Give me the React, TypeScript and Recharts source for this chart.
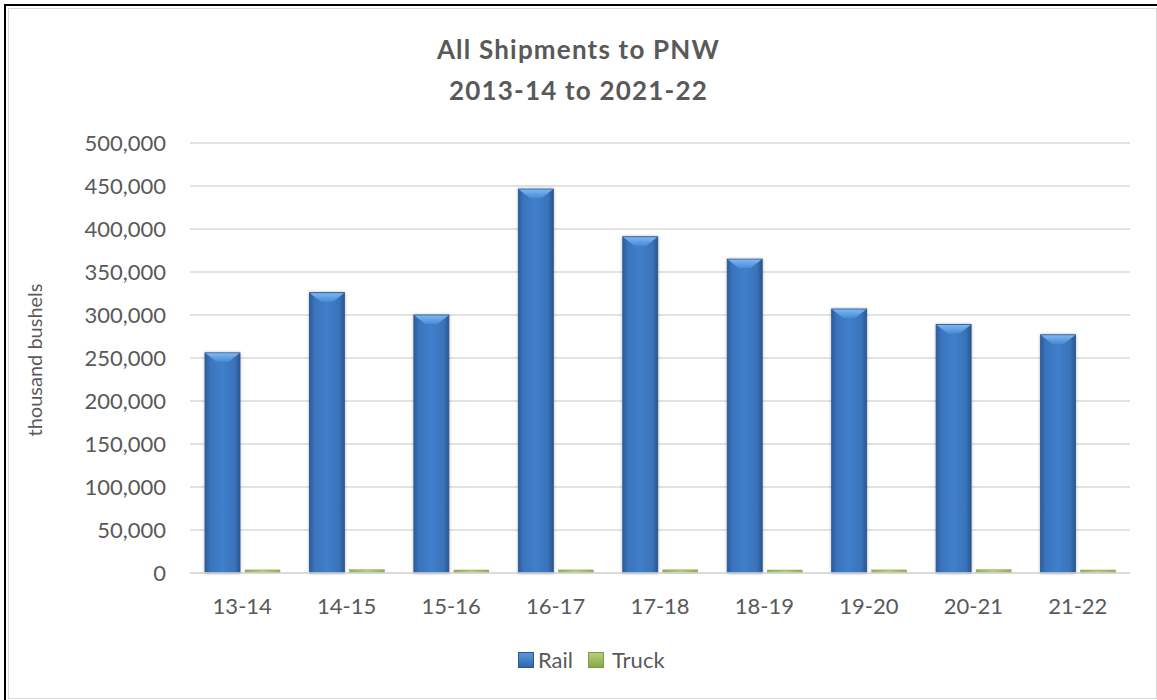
import React from 'react';
import { BarChart, Bar, XAxis, YAxis, CartesianGrid } from 'recharts';

const categories = ['13-14', '14-15', '15-16', '16-17', '17-18', '18-19', '19-20', '20-21', '21-22'];
const railValues = [256000, 326000, 300000, 446500, 391000, 365000, 307000, 289000, 277000];
const truckValues = [3600, 3800, 3500, 3600, 3700, 3500, 3600, 3900, 3500];
const yTicks = [0, 50000, 100000, 150000, 200000, 250000, 300000, 350000, 400000, 450000, 500000];
const titleLines = ['All Shipments to PNW', '2013-14 to 2021-22'];
const yAxisTitle = 'thousand bushels';
const seriesNames = ['Rail', 'Truck'];

const data = categories.map((c, i) => ({ category: c, rail: railValues[i], truck: truckValues[i] }));

const FONT = 'Lato, "Open Sans", sans-serif';
const TEXT = '#595959';

const fmt = (v: number) => v.toLocaleString('en-US');

const RailShape = (props: any) => {
  const { x, y, width, height } = props;
  if (!height || height <= 0) return null;
  const bev = Math.min(9, height);
  const inset = width * 0.33;
  return (
    <g filter="url(#barShadow)">
      <rect x={x} y={y} width={width} height={height} fill="url(#railGrad)" stroke="#2b558c" strokeWidth={0.8} />
      <path
        d={`M${x + 0.5},${y + 0.5} L${x + width - 0.5},${y + 0.5} L${x + width - inset},${y + bev} L${x + inset},${y + bev} Z`}
        fill="url(#railCap)"
      />
    </g>
  );
};

const TruckShape = (props: any) => {
  const { x, y, width, height } = props;
  if (!height || height <= 0) return null;
  return (
    <g>
      <rect x={x} y={y} width={width} height={height} fill="url(#truckGrad)" stroke="#8ea85a" strokeWidth={0.5} />
    </g>
  );
};

export default function App() {
  return (
    <div style={{ position: 'absolute', left: 0, top: 0, width: 1157, height: 700, background: '#fff', overflow: 'hidden', fontFamily: FONT }}>
      <div style={{ position: 'absolute', left: 4, top: 4, width: 1157, height: 700, borderTop: '2px solid #000', borderLeft: '2px solid #000' }} />
      <div style={{ position: 'absolute', left: 8, top: 8, width: 1147, height: 689, border: '1px solid #d9d9d9' }} />
      <div
        style={{
          position: 'absolute', left: 0, top: 29, width: 1157, textAlign: 'center',
          fontSize: 26, lineHeight: '41px', fontWeight: 700, color: TEXT, letterSpacing: 1.2,
        }}
      >
        {titleLines.map((t) => (
          <div key={t}>{t}</div>
        ))}
      </div>
      <div
        style={{
          position: 'absolute', left: 34, top: 360, width: 0, height: 0,
        }}
      >
        <div
          style={{
            position: 'absolute', left: -150, top: -12, width: 300, height: 24, lineHeight: '24px',
            textAlign: 'center', transform: 'rotate(-90deg)', fontSize: 20, color: TEXT, whiteSpace: 'nowrap',
          }}
        >
          {yAxisTitle}
        </div>
      </div>
      <div style={{ position: 'absolute', left: 0, top: 0 }}>
        <BarChart
          width={1157}
          height={700}
          data={data}
          margin={{ top: 143, right: 27, bottom: 87, left: 0 }}
          barSize={35}
          barGap={5}
        >
          <defs>
            <linearGradient id="railGrad" x1="0" y1="0" x2="1" y2="0">
              <stop offset="0%" stopColor="#2d5d9c" />
              <stop offset="15%" stopColor="#3a74bd" />
              <stop offset="50%" stopColor="#407fcb" />
              <stop offset="85%" stopColor="#3a72b9" />
              <stop offset="100%" stopColor="#2a5690" />
            </linearGradient>
            <linearGradient id="railCap" x1="0" y1="0" x2="0" y2="1">
              <stop offset="0%" stopColor="#7ab8f2" />
              <stop offset="100%" stopColor="#4a8ad6" />
            </linearGradient>
            <linearGradient id="truckGrad" x1="0" y1="0" x2="1" y2="0">
              <stop offset="0%" stopColor="#93ad5c" />
              <stop offset="50%" stopColor="#b3cc80" />
              <stop offset="100%" stopColor="#93ad5c" />
            </linearGradient>
            <filter id="barShadow" x="-20%" y="-5%" width="140%" height="110%">
              <feDropShadow dx="0" dy="0" stdDeviation="1.5" floodColor="#000" floodOpacity="0.3" />
            </filter>
          </defs>
          <CartesianGrid vertical={false} stroke="#d9d9d9" strokeWidth={1.5} />
          <XAxis
            dataKey="category"
            axisLine={{ stroke: '#d9d9d9', strokeWidth: 1.5 }}
            tickLine={false}
            tickSize={0}
            tickMargin={25}
            height={40}
            tick={{ fill: TEXT, fontSize: 22, fontFamily: FONT }}
            interval={0}
          />
          <YAxis
            width={190}
            domain={[0, 500000]}
            ticks={yTicks}
            interval={0}
            axisLine={false}
            tickLine={false}
            tickSize={0}
            tickMargin={24}
            tickFormatter={fmt}
            tick={{ fill: TEXT, fontSize: 22, fontFamily: FONT }}
          />
          <Bar dataKey="rail" name={seriesNames[0]} shape={<RailShape />} isAnimationActive={false} />
          <Bar dataKey="truck" name={seriesNames[1]} shape={<TruckShape />} isAnimationActive={false} />
        </BarChart>
      </div>
      <div
        style={{
          position: 'absolute', left: 518, top: 648, height: 24, display: 'flex', alignItems: 'center',
          fontSize: 22, color: TEXT, lineHeight: '24px',
        }}
      >
        <span style={{ display: 'inline-block', width: 16, height: 16, background: 'linear-gradient(#5b9be0, #2f64a8)', boxShadow: 'inset 0 0 0 1px #2b558c' }} />
        <span style={{ marginLeft: 4 }}>{seriesNames[0]}</span>
        <span style={{ display: 'inline-block', width: 16, height: 16, marginLeft: 15, background: 'linear-gradient(#b9d27c, #86a63e)', boxShadow: 'inset 0 0 0 1px #7f9a45' }} />
        <span style={{ marginLeft: 8 }}>{seriesNames[1]}</span>
      </div>
    </div>
  );
}
